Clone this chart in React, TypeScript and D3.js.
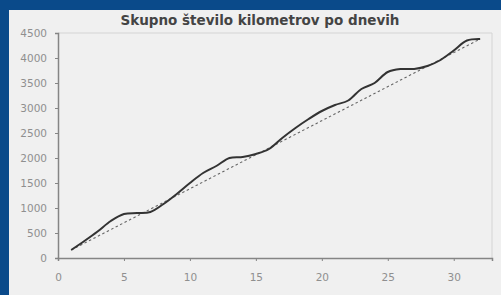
import React, { useEffect, useRef } from "react";
import * as d3 from "d3";

const title = "Skupno število kilometrov po dnevih";
const days = [1,2,3,4,5,6,7,8,9,10,11,12,13,14,15,16,17,18,19,20,21,22,23,24,25,26,27,28,29,30,31,32];
const km = [160,340,530,740,880,900,920,1080,1280,1500,1700,1840,2000,2020,2080,2180,2400,2600,2780,2940,3060,3150,3380,3500,3720,3780,3780,3840,3960,4150,4350,4380];
const yTicks = [0,500,1000,1500,2000,2500,3000,3500,4000,4500];
const xTicks = [0,5,10,15,20,25,30];

const W = 501, H = 295;

export default function App() {
  const ref = useRef<SVGSVGElement>(null);
  useEffect(() => {
    const svg = d3.select(ref.current);
    svg.selectAll("*").remove();
    svg.append("rect").attr("width", W).attr("height", H).attr("fill", "#0a4a8a");
    svg.append("rect").attr("x", 9).attr("y", 10).attr("width", W - 9).attr("height", H - 10).attr("fill", "#f0f0f0");

    const x = d3.scaleLinear().domain([0, 32.9]).range([58, 492]);
    const y = d3.scaleLinear().domain([0, 4500]).range([258, 33]);

    // frame
    svg.append("path")
      .attr("d", `M${x(0)},${y(4500)}H${x(32.9)}V${y(0)}`)
      .attr("fill", "none").attr("stroke", "#d4d4d4").attr("stroke-width", 1);

    const axisColor = "#858585";
    const font = "'DejaVu Sans', Verdana, sans-serif";

    const ya = svg.append("g").attr("transform", `translate(${x(0)},0)`)
      .call(d3.axisLeft(y).tickValues(yTicks).tickSize(3).tickPadding(8).tickFormat(d3.format("d")));
    const xa = svg.append("g").attr("transform", `translate(0,${y(0)})`)
      .call(d3.axisBottom(x).tickValues(xTicks).tickSize(3).tickPadding(13));
    [ya, xa].forEach(a => {
      a.select(".domain").attr("stroke", axisColor).attr("stroke-width", 1.5);
      a.selectAll(".tick line").attr("stroke", axisColor);
      a.selectAll("text").attr("fill", "#8f8f8f").attr("font-family", font).attr("font-size", 10.5);
    });

    // straight reference line from first to last day
    const n = days.length - 1;
    svg.append("line")
      .attr("x1", x(days[0])).attr("y1", y(km[0]))
      .attr("x2", x(days[n])).attr("y2", y(km[n]))
      .attr("stroke", "#666").attr("stroke-width", 1.1).attr("stroke-dasharray", "2.5,2.5");

    const line = d3.line<number>().x((d, i) => x(days[i])).y(d => y(d)).curve(d3.curveCatmullRom);
    svg.append("path").datum(km).attr("d", line).attr("fill", "none")
      .attr("stroke", "#333").attr("stroke-width", 2);

    svg.append("text").attr("x", 260).attr("y", 25).attr("text-anchor", "middle")
      .attr("font-family", font).attr("font-weight", "bold").attr("font-size", 13.5)
      .attr("fill", "#444").text(title);
  }, []);
  return <svg ref={ref} width={W} height={H} style={{ position: "absolute", left: 0, top: 0 }} />;
}
